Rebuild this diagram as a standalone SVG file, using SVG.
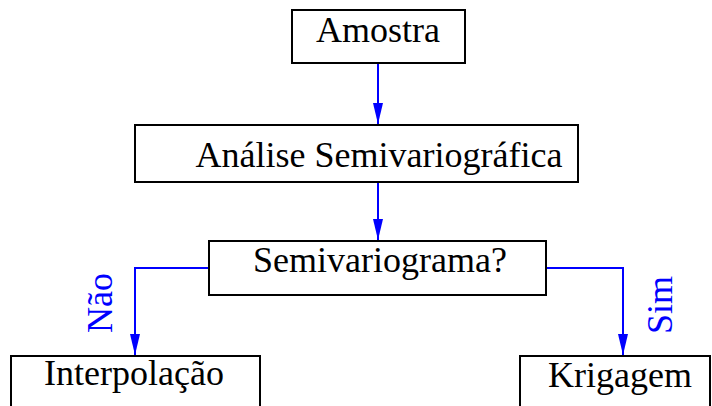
<svg xmlns="http://www.w3.org/2000/svg" width="712" height="406" viewBox="0 0 712 406">
<style>
.box{fill:#fff;stroke:#000;stroke-width:2}
.t{font-family:"Liberation Serif","Times New Roman",serif;font-size:36px;fill:#000;text-anchor:middle}
.e{fill:none;stroke:#0000ff;stroke-width:2}
.lb{font-family:"Liberation Serif","Times New Roman",serif;font-size:36px;fill:#0000ff;text-anchor:middle}
</style>
<defs>
<marker id="ah" markerWidth="21" markerHeight="10" refX="21" refY="5" orient="auto" markerUnits="userSpaceOnUse" viewBox="0 0 21 10">
<path d="M0,0 L21,5 L0,10 Z" fill="#0000ff"/>
</marker>
</defs>
<rect width="712" height="406" fill="#fff"/>
<g id="connectors">
<path class="e" d="M378,63 V124" marker-end="url(#ah)"/>
<path class="e" d="M378,182 V240" marker-end="url(#ah)"/>
<path class="e" d="M209,268 H135 V355" marker-end="url(#ah)"/>
<path class="e" d="M546,268 H623 V355" marker-end="url(#ah)"/>
<text class="lb" transform="translate(112,303) rotate(-90)">Não</text>
<text class="lb" transform="translate(672,305) rotate(-90)">Sim</text>
</g>
<g id="amostra">
<rect class="box" x="292" y="10" width="173" height="53"/>
<text class="t" x="378" y="42">Amostra</text>
</g>
<g id="analise">
<rect class="box" x="135" y="125" width="443" height="57"/>
<text class="t" x="379" y="167">Análise Semivariográfica</text>
</g>
<g id="semivariograma">
<rect class="box" x="209" y="241" width="337" height="54"/>
<text class="t" x="380" y="272">Semivariograma?</text>
</g>
<g id="interpolacao">
<rect class="box" x="11" y="356" width="249" height="60"/>
<text class="t" x="134" y="385">Interpolação</text>
</g>
<g id="krigagem">
<rect class="box" x="520" y="356" width="190" height="60"/>
<text class="t" x="620" y="387">Krigagem</text>
</g>
</svg>
